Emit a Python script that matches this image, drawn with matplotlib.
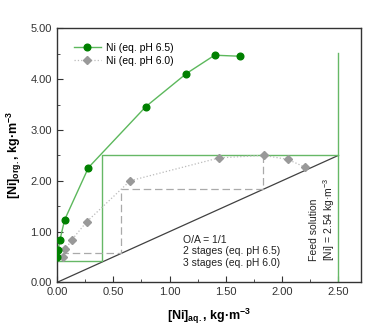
import matplotlib
matplotlib.use("Agg")
import matplotlib.pyplot as plt
from matplotlib.ticker import MultipleLocator, FormatStrFormatter

plt.rcParams['font.family'] = ['Liberation Sans', 'DejaVu Sans']

# Equilibrium data
x_ph65 = [0.00, 0.01, 0.027, 0.068, 0.28, 0.79, 1.15, 1.40, 1.625]
y_ph65 = [0.51, 0.64, 0.84, 1.23, 2.26, 3.46, 4.11, 4.47, 4.45]
x_ph60 = [0.05, 0.074, 0.133, 0.263, 0.65, 1.44, 1.835, 2.05, 2.20]
y_ph60 = [0.51, 0.65, 0.84, 1.19, 2.00, 2.45, 2.50, 2.42, 2.27]

# Operating line (O/A = 1/1)
op_x = [0.0, 2.5]
op_y = [0.0, 2.5]

# McCabe-Thiele steps
steps2_x = [2.5, 0.4, 0.4, 0.0]
steps2_y = [2.5, 2.5, 0.42, 0.42]
steps3_x = [1.83, 1.83, 0.57, 0.57, 0.05]
steps3_y = [2.5, 1.84, 1.84, 0.58, 0.58]

# Feed line
feed_x = [2.5, 2.5]
feed_y = [0.0, 4.52]

fig = plt.figure(figsize=(3.65, 3.25), dpi=100)
ax = fig.add_axes([0.156, 0.131, 0.833, 0.782])

ax.plot(op_x, op_y, color='#404040', lw=0.9, zorder=2)
ax.plot(steps2_x, steps2_y, color='#66b866', lw=1.0, zorder=2)
ax.plot(feed_x, feed_y, color='#66b866', lw=1.0, zorder=2)
ax.plot(steps3_x, steps3_y, color='#aaaaaa', lw=0.9, ls=(0, (6, 3)), zorder=2)

ax.plot(x_ph65, y_ph65, color='#5cb85c', lw=1.0, marker='o', ms=4.8,
        mfc='#008000', mec='#008000', label='Ni (eq. pH 6.5)', zorder=4)
ax.plot(x_ph60, y_ph60, color='#bbbbbb', lw=0.9, ls=':', marker='D', ms=4,
        mfc='#999999', mec='#999999', label='Ni (eq. pH 6.0)', zorder=3)

ax.set_xlim(0, 2.7)
ax.set_ylim(0, 5.0)
ax.xaxis.set_major_locator(MultipleLocator(0.5))
ax.xaxis.set_minor_locator(MultipleLocator(0.25))
ax.yaxis.set_major_locator(MultipleLocator(1.0))
ax.yaxis.set_minor_locator(MultipleLocator(0.5))
ax.xaxis.set_major_formatter(FormatStrFormatter('%.2f'))
ax.yaxis.set_major_formatter(FormatStrFormatter('%.2f'))
ax.tick_params(which='both', direction='in', labelsize=8, colors='#333333',
               labelcolor='#333333')
ax.tick_params(which='major', length=4)
ax.tick_params(which='minor', length=2.5)
for s in ax.spines.values():
    s.set_linewidth(1.0)
    s.set_color('#333333')

ax.set_xlabel('[Ni]$_{\\mathregular{aq.}}$, kg·m$^{\\mathregular{-3}}$',
              fontsize=9, fontweight='bold', labelpad=7)
ax.set_ylabel('[Ni]$_{\\mathregular{org.}}$, kg·m$^{\\mathregular{-3}}$',
              fontsize=9, fontweight='bold', labelpad=5)

ax.text(1.12, 0.93, 'O/A = 1/1\n2 stages (eq. pH 6.5)\n3 stages (eq. pH 6.0)',
        fontsize=7.5, color='#222222', va='top', ha='left', linespacing=1.15)
ax.text(2.36, 0.43, 'Feed solution\n[Ni] = 2.54 kg·m$^{\\mathregular{-3}}$',
        fontsize=7.5, color='#222222', rotation=90, ha='center', va='bottom',
        multialignment='left', linespacing=1.2)

ax.legend(loc='upper left', bbox_to_anchor=(0.025, 0.98), frameon=False,
          fontsize=7.5, handlelength=2.6, handletextpad=0.5, labelspacing=0.3)

fig.savefig('out.png', dpi=100)
